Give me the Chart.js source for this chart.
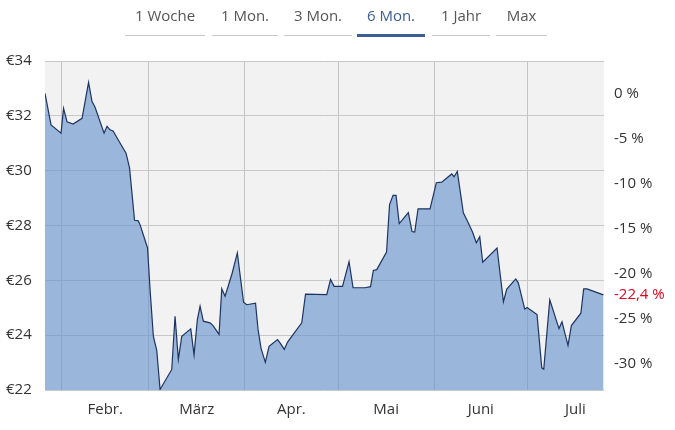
<!DOCTYPE html>
<html lang="de">
<head>
<meta charset="utf-8">
<title>Kursverlauf 6 Monate</title>
<script src="https://cdn.jsdelivr.net/npm/chart.js@4.4.1/dist/chart.umd.min.js"></script>
<style>
    html, body { margin: 0; padding: 0; background: #fff; }
    body { width: 675px; height: 430px; position: relative; overflow: hidden; font-family: "Open Sans", sans-serif; }
    #wrap { position: absolute; left: 0; top: 0; width: 675px; height: 430px; }
    .tab { position: absolute; top: 0; height: 36px; line-height: 30px; text-align: center;
           font-size: 15px; color: #555; border-bottom: 1px solid #c8c8c8; box-sizing: border-box; }
    .tab.active { color: #3d5e94; border-bottom: 3px solid #3d5e94; height: 37px; }
</style>
</head>
<body>
<div id="wrap"><canvas id="kursChart"></canvas></div>
<div id="tabs"></div>
<script>
// Zeitraum-Reiter
const tabLabels = ['1 Woche', '1 Mon.', '3 Mon.', '6 Mon.', '1 Jahr', 'Max'];
const activeTab = '6 Mon.';

// Achsen
const monthLabels = ['Febr.', 'März', 'Apr.', 'Mai', 'Juni', 'Juli'];
const monthStarts = [31, 59, 90, 120, 151, 181, 212]; // Tag im Jahr (1. Jan = 0)
const priceTicks = [22, 24, 26, 28, 30, 32, 34];
const pctTicks = [0, -5, -10, -15, -20, -25, -30];
const dayMin = 25.6;
const dayMax = 205.7;

// Kursdaten (Tag im Jahr, Kurs in €)
const days = [
    25.6, 27.55, 30.77, 31.58, 32.71, 34.64, 37.54, 39.63, 40.76, 41.73,
    44.63, 45.59, 46.56, 47.53, 49.78, 51.71, 52.84, 54.45, 55.58, 56.22,
    58.64, 59.45, 60.51, 61.61, 62.67, 66.44, 67.5, 68.56, 69.66, 72.56,
    73.62, 74.69, 75.56, 76.62, 78.78, 79.74, 81.68, 82.55, 83.61, 85.87,
    87.57, 88.44, 89.57, 90.6, 93.43, 94.24, 95.21, 96.59, 97.79, 100.52,
    101.33, 102.69, 103.75, 108.32, 109.54, 116.37, 117.6, 118.73, 121.46, 123.56,
    124.85, 128.71, 130.48, 131.39, 132.48, 135.64, 136.61, 137.73, 138.7, 139.73,
    142.66, 143.86, 144.72, 145.79, 149.65, 151.68, 153.42, 156.64, 157.38, 158.44,
    160.38, 161.57, 163.34, 164.56, 165.66, 166.63, 171.24, 173.3, 174.37, 177.27,
    178.08, 180.17, 180.91, 184.13, 185.65, 186.29, 188.23, 191.2, 192.17, 194.1,
    195.19, 198.25, 199.15, 200.22, 205.5
];
const prices = [
    32.82, 31.67, 31.37, 32.27, 31.78, 31.70, 31.91, 33.22, 32.52, 32.31,
    31.37, 31.62, 31.49, 31.45, 31.01, 30.64, 30.10, 28.19, 28.18, 28.03,
    27.18, 25.66, 23.96, 23.44, 22.02, 22.75, 24.69, 23.12, 23.96, 24.23,
    23.28, 24.57, 25.06, 24.51, 24.45, 24.35, 24.03, 25.69, 25.42, 26.25,
    27.00, 26.21, 25.20, 25.11, 25.17, 24.21, 23.52, 23.01, 23.59, 23.84,
    23.72, 23.48, 23.75, 24.45, 25.50, 25.48, 26.03, 25.78, 25.78, 26.68,
    25.73, 25.73, 25.77, 26.36, 26.39, 27.03, 28.76, 29.10, 29.10, 28.07,
    28.47, 27.78, 27.76, 28.61, 28.61, 29.56, 29.58, 29.88, 29.78, 29.97,
    28.46, 28.19, 27.76, 27.37, 27.59, 26.66, 27.18, 25.22, 25.68, 26.05,
    25.91, 24.95, 25.01, 24.75, 22.81, 22.76, 25.29, 24.24, 24.49, 23.63,
    24.35, 24.80, 25.69, 25.69, 25.47
];

// Reiter aufbauen
const tabPos = [[125, 80], [212, 66], [284, 68], [357, 68], [432, 58], [496, 51]];
const tabsEl = document.getElementById('tabs');
tabLabels.forEach((t, i) => {
    const d = document.createElement('div');
    d.className = 'tab' + (t === activeTab ? ' active' : '');
    d.style.left = tabPos[i][0] + 'px';
    d.style.width = tabPos[i][1] + 'px';
    d.textContent = t;
    tabsEl.appendChild(d);
});

// Prozent relativ zum ersten Kurs
const basePrice = prices[0];
const lastPct = (prices[prices.length - 1] / basePrice - 1) * 100;
const toPct = v => (v / basePrice - 1) * 100;

const monthMids = monthLabels.map((m, i) => (monthStarts[i] + monthStarts[i + 1]) / 2);

// grauer Hintergrund im Diagrammbereich
const plotBg = {
    id: 'plotBg',
    beforeDraw(chart) {
        const { ctx, chartArea: a } = chart;
        ctx.save();
        ctx.fillStyle = '#f2f2f2';
        ctx.fillRect(a.left, a.top, a.right - a.left, a.bottom - a.top);
        ctx.restore();
    }
};

const tickFont = { family: '"Open Sans", sans-serif', size: 15 };

new Chart(document.getElementById('kursChart'), {
    type: 'line',
    data: {
        datasets: [{
            data: days.map((d, i) => ({ x: d, y: prices[i] })),
            borderColor: '#1d3461',
            borderWidth: 1.2,
            backgroundColor: 'rgba(100,145,205,0.62)',
            fill: 'start',
            pointRadius: 0,
            tension: 0
        }]
    },
    options: {
        responsive: true,
        maintainAspectRatio: false,
        animation: false,
        layout: { padding: { left: 6, top: 61, right: 0, bottom: 0 } },
        plugins: { legend: { display: false }, tooltip: { enabled: false } },
        scales: {
            x: {
                type: 'linear',
                min: dayMin,
                max: dayMax,
                border: { display: false },
                afterBuildTicks: axis => {
                    const starts = monthStarts.filter(v => v > dayMin && v < dayMax);
                    axis.ticks = monthMids.concat(starts).map(v => ({ value: v }));
                },
                afterFit: s => { s.height = 40; },
                grid: {
                    drawTicks: false,
                    color: ctx => (ctx.tick && monthStarts.includes(ctx.tick.value)) ? '#c4c4c4' : 'rgba(0,0,0,0)'
                },
                ticks: {
                    autoSkip: false,
                    maxRotation: 0,
                    padding: 11,
                    color: '#333',
                    font: tickFont,
                    callback: (v, i) => i < monthLabels.length ? monthLabels[i] : ''
                }
            },
            y: {
                position: 'left',
                min: priceTicks[0],
                max: priceTicks[priceTicks.length - 1],
                border: { display: false },
                afterBuildTicks: axis => { axis.ticks = priceTicks.map(v => ({ value: v })); },
                afterFit: s => { s.width = 39; },
                grid: { color: '#c8c8c8', drawTicks: false },
                ticks: {
                    crossAlign: 'far',
                    color: '#333',
                    font: tickFont,
                    callback: v => '€' + v
                }
            },
            y2: {
                position: 'right',
                min: toPct(priceTicks[0]),
                max: toPct(priceTicks[priceTicks.length - 1]),
                border: { display: false },
                grid: { display: false, drawTicks: false },
                afterBuildTicks: axis => {
                    axis.ticks = pctTicks.concat([lastPct]).map(v => ({ value: v }));
                },
                afterFit: s => { s.width = 71; },
                ticks: {
                    autoSkip: false,
                    padding: 10,
                    font: tickFont,
                    color: ctx => ctx.index === pctTicks.length ? '#e2001a' : '#333',
                    callback: (v, i) => i === pctTicks.length
                        ? v.toFixed(1).replace('.', ',') + ' %'
                        : v + ' %'
                }
            }
        }
    },
    plugins: [plotBg]
});
</script>
</body>
</html>
